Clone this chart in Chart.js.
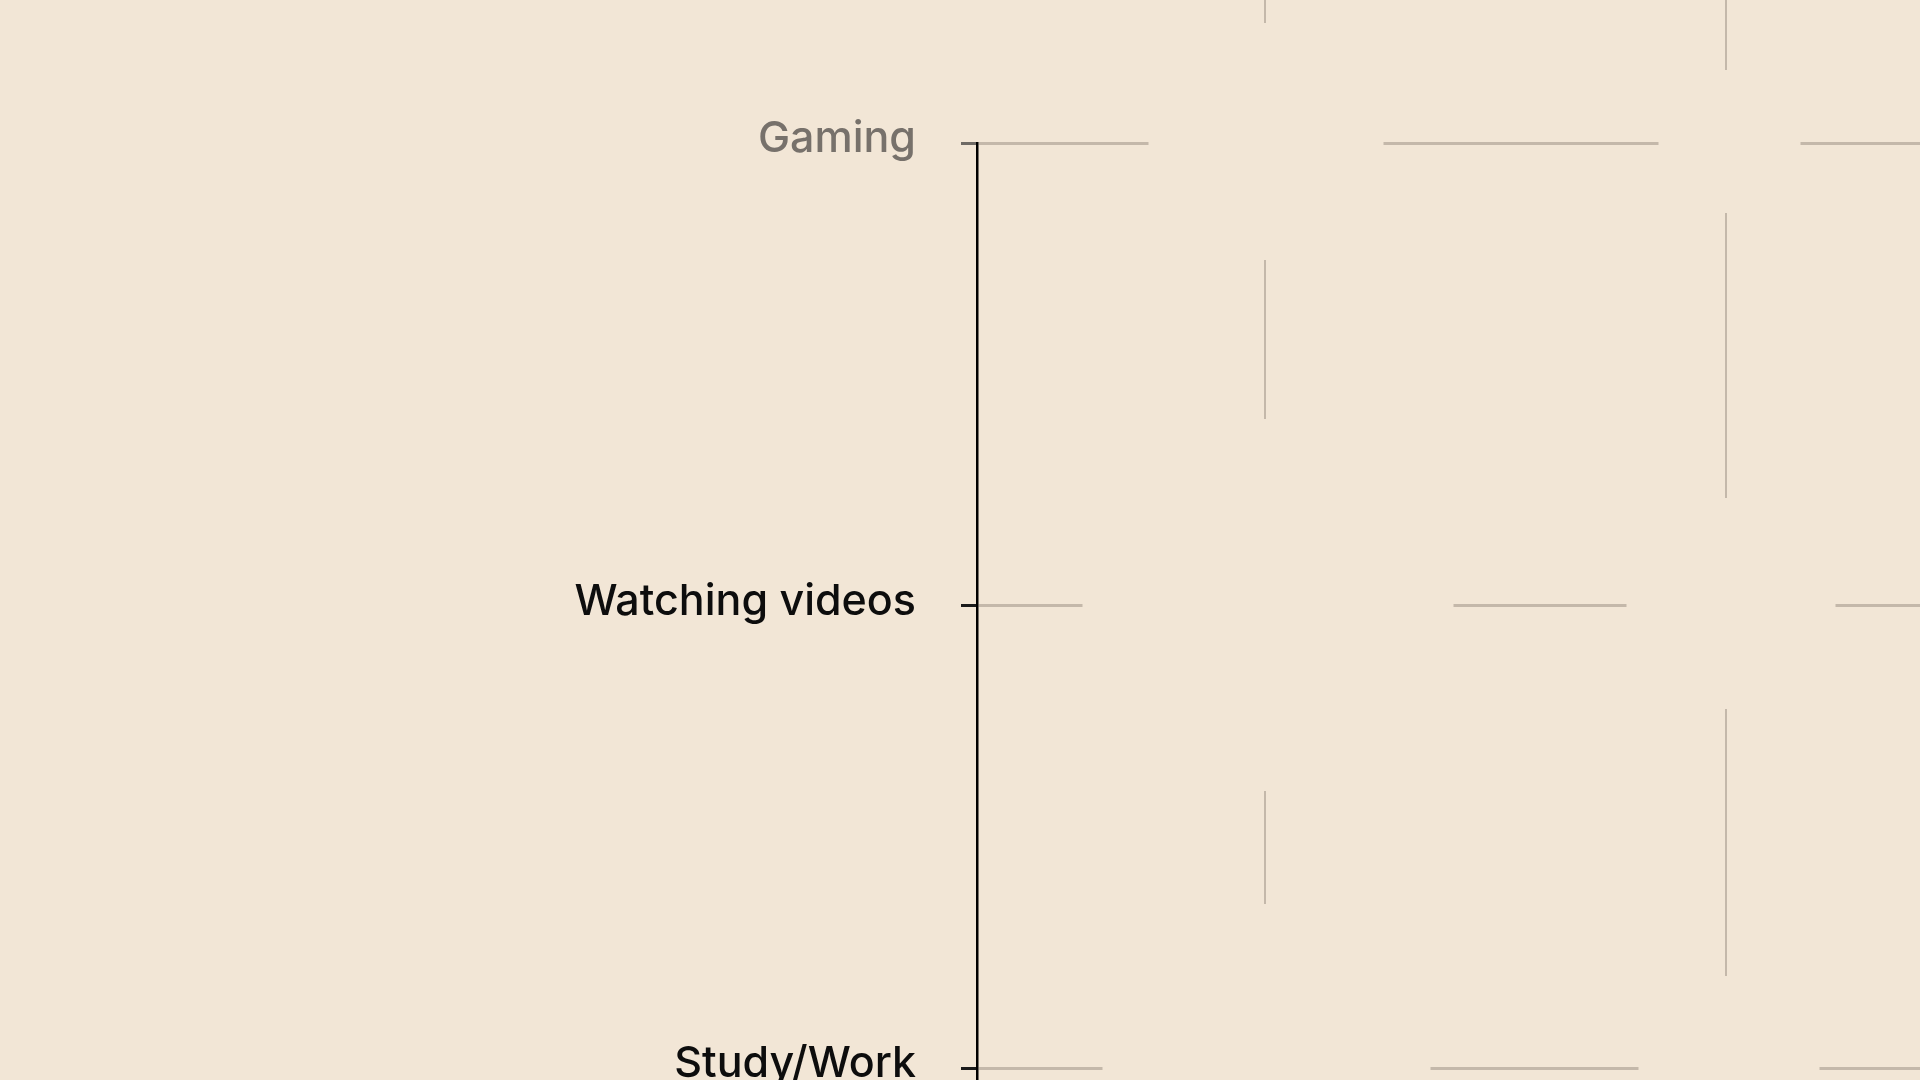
<!DOCTYPE html>
<html>
<head>
<meta charset="utf-8">
<title>Time spent by activity</title>
<script src="https://cdn.jsdelivr.net/npm/chart.js@4.4.0/dist/chart.umd.min.js"></script>
<style>
  html, body { margin: 0; padding: 0; overflow: hidden; background: #f2e6d6; }
  #wrap { position: absolute; left: 0; top: 0; }
</style>
</head>
<body>
<div id="wrap">
  <canvas id="activityChart" width="3755" height="1602"></canvas>
</div>
<script>
// activities shown on the category axis (top to bottom)
const categories = ["Gaming", "Watching videos", "Study/Work", "Social media"];
// hours per day for each activity
const hours = [4.8, 5.6, 6.1, 5.2];
// value axis ticks (hours)
const xTicks = [1, 2, 3, 4, 5, 6];

// sketchy dash patterns for the grid, one per line
const xGridDash = [
    [0, 117, 159, 372, 113, 350, 200, 300],
    [0, 70, 285, 211, 267, 250, 250, 200],
    [0, 160, 220, 300, 180, 260],
    [0, 90, 250, 240, 200, 300],
    [0, 130, 200, 280, 240, 220],
    [0, 100, 260, 230, 190, 280]
];
const xTickDash = [[23, 200], [70, 200], [40, 200], [55, 200], [30, 200], [60, 200]];
const yGridDash = [
    [170, 235, 275, 142, 400, 200],
    [104, 371, 173, 209, 400, 200],
    [124, 328, 208, 181, 400, 200],
    [150, 250, 220, 200]
];

const AXIS_LEFT = 977;
const TOP_EXTRA = 143;

const ctx = document.getElementById("activityChart").getContext("2d");

new Chart(ctx, {
    type: "line",
    data: {
        labels: categories,
        datasets: [{
            label: "Hours per day",
            data: hours,
            showLine: false,
            pointRadius: 12,
            pointBackgroundColor: "#d9822b",
            pointBorderColor: "#d9822b"
        }]
    },
    options: {
        indexAxis: "y",
        responsive: false,
        animation: false,
        layout: { padding: { left: 0, right: 0, top: 0, bottom: 40 } },
        plugins: {
            legend: { display: false },
            tooltip: { enabled: false }
        },
        scales: {
            x: {
                type: "linear",
                position: "top",
                min: 0.375,
                max: 6.375,
                afterBuildTicks: (scale) => {
                    scale.ticks = xTicks.map(v => ({ value: v }));
                },
                ticks: { display: false },
                grid: {
                    color: "#c4b8aa",
                    lineWidth: 2,
                    drawTicks: true,
                    tickLength: TOP_EXTRA,
                    tickColor: "#c4b8aa",
                    tickWidth: 2,
                    tickBorderDash: (c) => xTickDash[c.index] || [40, 200]
                },
                border: {
                    display: false,
                    dash: (c) => xGridDash[c.index] || [0, 150, 200, 250]
                }
            },
            y: {
                type: "category",
                position: "left",
                offset: false,
                afterFit: (scale) => { scale.width = AXIS_LEFT; },
                ticks: {
                    padding: 45,
                    labelOffset: -4,
                    color: (c) => c.index === 0 ? "#77716b" : "#0d0d0d",
                    font: { family: "Inter", size: 43, weight: "500" }
                },
                grid: {
                    color: "#c4b8aa",
                    lineWidth: 3,
                    drawTicks: true,
                    tickLength: 16,
                    tickWidth: 3,
                    tickColor: (c) => c.index === 0 ? "#6f6a65" : "#1a1a1a"
                },
                border: {
                    display: true,
                    color: "#000000",
                    width: 2.5,
                    dash: (c) => yGridDash[c.index] || [150, 250]
                }
            }
        }
    }
});
</script>
</body>
</html>
